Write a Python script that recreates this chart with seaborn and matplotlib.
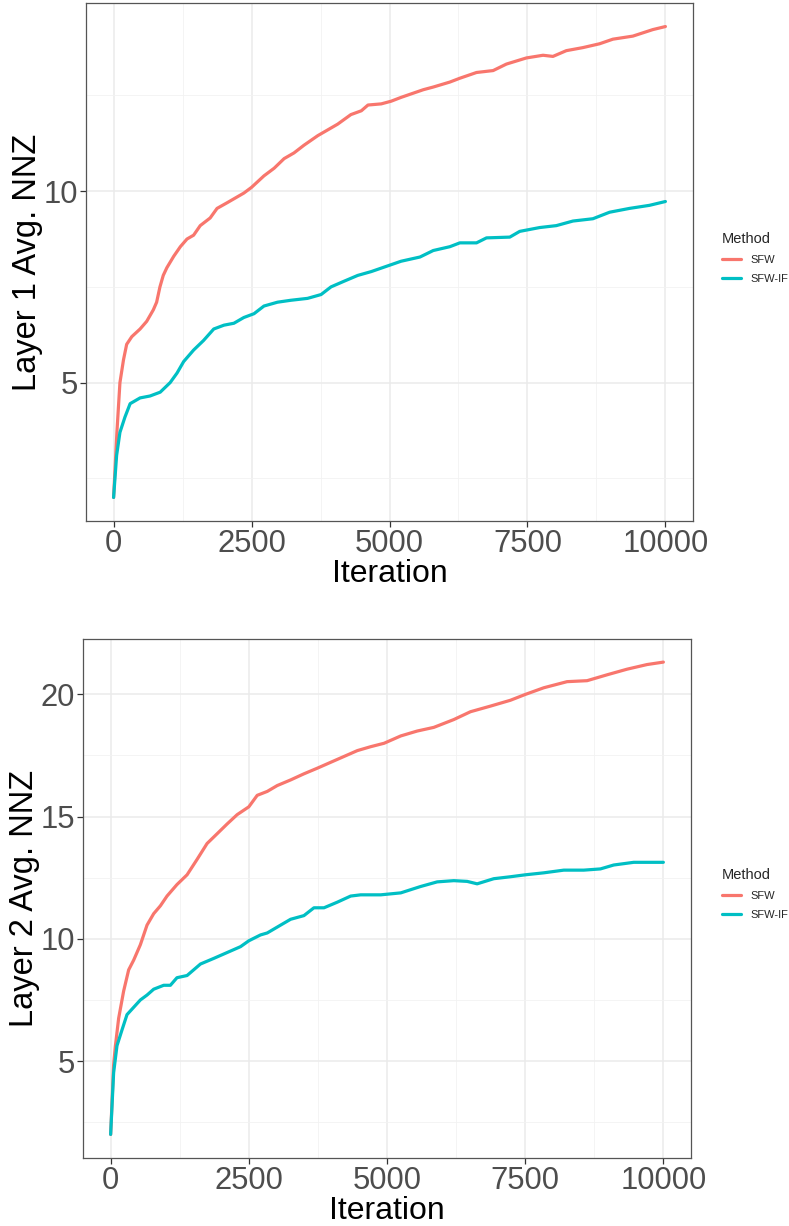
import numpy as np
import pandas as pd
import matplotlib
matplotlib.use("Agg")
import matplotlib.pyplot as plt
import seaborn as sns

# ---------------- data ----------------
methods = ["SFW", "SFW-IF"]
palette = {"SFW": "#F8766D", "SFW-IF": "#00BFC4"}

l1_sfw_iter = [0, 60, 115, 180, 237, 330, 480, 600, 720, 780, 840, 900, 965, 1090, 1210,
               1330, 1450, 1570, 1750, 1875, 2060, 2180, 2360, 2500, 2725, 2910, 3090,
               3270, 3450, 3700, 3880, 4060, 4300, 4490, 4610, 4850, 5030, 5210, 5612,
               5793, 6094, 6275, 6577, 6878, 7119, 7481, 7782, 7962, 8204, 8505, 8807,
               9048, 9410, 9771, 10000]
l1_sfw_val = [2.0, 3.7, 5.0, 5.6, 6.0, 6.2, 6.4, 6.6, 6.9, 7.1, 7.5, 7.8, 8.0, 8.3, 8.55,
              8.75, 8.85, 9.1, 9.3, 9.55, 9.7, 9.8, 9.95, 10.1, 10.4, 10.6, 10.85,
              11.0, 11.2, 11.45, 11.6, 11.75, 12.0, 12.1, 12.25, 12.28, 12.35, 12.45, 12.65,
              12.72, 12.85, 12.95, 13.1, 13.15, 13.32, 13.48, 13.55, 13.52, 13.67, 13.75, 13.85,
              13.97, 14.05, 14.22, 14.3]

l1_if_iter = [0, 55, 115, 206, 300, 360, 480, 660, 845, 1025, 1150, 1270, 1450, 1630, 1815,
              2000, 2180, 2360, 2545, 2725, 2970, 3210, 3515, 3760, 3940, 4180, 4425,
              4670, 4970, 5210, 5552, 5793, 6094, 6275, 6577, 6758, 7180, 7360, 7722,
              8023, 8325, 8686, 8988, 9349, 9711, 10000]
l1_if_val = [2.0, 3.1, 3.7, 4.1, 4.45, 4.5, 4.6, 4.65, 4.75, 5.0, 5.25, 5.55, 5.85, 6.1, 6.4,
             6.5, 6.55, 6.7, 6.8, 7.0, 7.1, 7.15, 7.2, 7.3, 7.5, 7.65, 7.8,
             7.9, 8.05, 8.17, 8.28, 8.45, 8.55, 8.65, 8.65, 8.78, 8.8, 8.95, 9.05,
             9.1, 9.22, 9.28, 9.45, 9.55, 9.63, 9.73]

l2_sfw_iter = [0, 54, 85, 145, 235, 326, 417, 538, 658, 779, 900, 1020, 1200, 1383, 1564,
               1745, 1927, 2108, 2289, 2500, 2652, 2833, 3014, 3256, 3497, 3739, 3980,
               4222, 4464, 4705, 4947, 5249, 5546, 5847, 6209, 6510, 6872, 7234, 7505,
               7836, 8258, 8620, 8981, 9343, 9705, 10000]
l2_sfw_val = [2.0, 4.84, 5.6, 6.75, 7.86, 8.73, 9.13, 9.76, 10.56, 11.03, 11.35, 11.75, 12.22,
              12.62, 13.25, 13.9, 14.3, 14.7, 15.08, 15.4, 15.87, 16.03, 16.27, 16.5, 16.75,
              16.98, 17.22, 17.46, 17.7, 17.86, 18.0, 18.3, 18.5, 18.65, 18.97, 19.29, 19.52,
              19.76, 20.0, 20.27, 20.52, 20.56, 20.8, 21.03, 21.22, 21.32]

l2_if_iter = [0, 54, 115, 205, 296, 417, 538, 658, 779, 960, 1081, 1200, 1383, 1625, 1866,
              2108, 2350, 2500, 2712, 2833, 3074, 3256, 3497, 3678, 3860, 4101, 4343,
              4524, 4886, 5249, 5607, 5908, 6209, 6450, 6631, 6932, 7234, 7505, 7836,
              8198, 8560, 8861, 9102, 9464, 9826, 10000]
l2_if_val = [2.0, 4.52, 5.63, 6.27, 6.9, 7.2, 7.5, 7.7, 7.94, 8.1, 8.1, 8.41, 8.5, 8.97, 9.2,
             9.44, 9.68, 9.92, 10.16, 10.24, 10.56, 10.8, 10.95, 11.27, 11.27, 11.5, 11.75,
             11.8, 11.8, 11.88, 12.14, 12.33, 12.38, 12.35, 12.25, 12.46, 12.54, 12.62, 12.7,
             12.81, 12.81, 12.86, 13.02, 13.13, 13.13, 13.13]

x_ticks = [0, 2500, 5000, 7500, 10000]
l1_yticks = [5, 10]
l2_yticks = [5, 10, 15, 20]
y_titles = ["Layer 1 Avg. NNZ", "Layer 2 Avg. NNZ"]
x_title = "Iteration"
legend_title = "Method"


def make_df(it_a, v_a, it_b, v_b):
    a = pd.DataFrame({"Iteration": it_a, "NNZ": v_a, "Method": methods[0]})
    b = pd.DataFrame({"Iteration": it_b, "NNZ": v_b, "Method": methods[1]})
    return pd.concat([a, b], ignore_index=True)


df1 = make_df(l1_sfw_iter, l1_sfw_val, l1_if_iter, l1_if_val)
df2 = make_df(l2_sfw_iter, l2_sfw_val, l2_if_iter, l2_if_val)

# ---------------- style ----------------
sns.set_theme(style="white")
plt.rcParams["font.family"] = ["Liberation Sans", "DejaVu Sans"]

W, H = 789, 1226
fig = plt.figure(figsize=(W / 100, H / 100), dpi=100)


def px_axes(left, top, right, bottom):
    return fig.add_axes([left / W, 1 - bottom / H, (right - left) / W, (bottom - top) / H])


def style_axes(ax, df, yticks, ytitle, ylim, minor_y, legend_top, ylabpad):
    sns.lineplot(data=df, x="Iteration", y="NNZ", hue="Method", hue_order=methods,
                 palette=palette, linewidth=2.3, ax=ax, estimator=None, sort=True)
    ax.set_xlim(-500, 10500)
    ax.set_ylim(*ylim)
    ax.set_xticks(x_ticks)
    ax.set_xticks([1250, 3750, 6250, 8750], minor=True)
    ax.set_yticks(yticks)
    ax.set_yticks(minor_y, minor=True)
    ax.set_xticklabels([str(t) for t in x_ticks])
    ax.set_yticklabels([str(t) for t in yticks])
    ax.grid(True, which="major", color="#EBEBEB", linewidth=1.1)
    ax.grid(True, which="minor", color="#F2F2F2", linewidth=0.6)
    ax.set_axisbelow(True)
    for s in ax.spines.values():
        s.set_color("#555555")
        s.set_linewidth(0.9)
    ax.tick_params(axis="both", which="major", length=4, width=0.9, color="#333333",
                   labelsize=22.3, labelcolor="#4D4D4D", pad=2, bottom=True, left=True)
    ax.tick_params(axis="both", which="minor", length=0)
    ax.set_xlabel(x_title, fontsize=23, color="black", labelpad=0)
    ax.set_ylabel(ytitle, fontsize=23.5, color="black", labelpad=ylabpad)
    leg = ax.legend(title=legend_title, loc="upper left", frameon=False,
                    bbox_to_anchor=(712 / W, 1 - legend_top / H),
                    bbox_transform=fig.transFigure, fontsize=8, title_fontsize=10.5,
                    handlelength=1.75, handletextpad=0.8, labelspacing=0.8)
    leg._legend_box.align = "left"
    for ln in leg.get_lines():
        ln.set_linewidth(2.3)


ax1 = px_axes(86, 3, 693, 521)
style_axes(ax1, df1, l1_yticks, y_titles[0], (1.385, 14.915), [2.5, 7.5, 12.5], 222, 0)

ax2 = px_axes(83, 639, 691, 1158)
style_axes(ax2, df2, l2_yticks, y_titles[1], (1.035, 22.265), [2.5, 7.5, 12.5, 17.5], 858, 0)

fig.savefig("out.png", dpi=100, facecolor="white")
